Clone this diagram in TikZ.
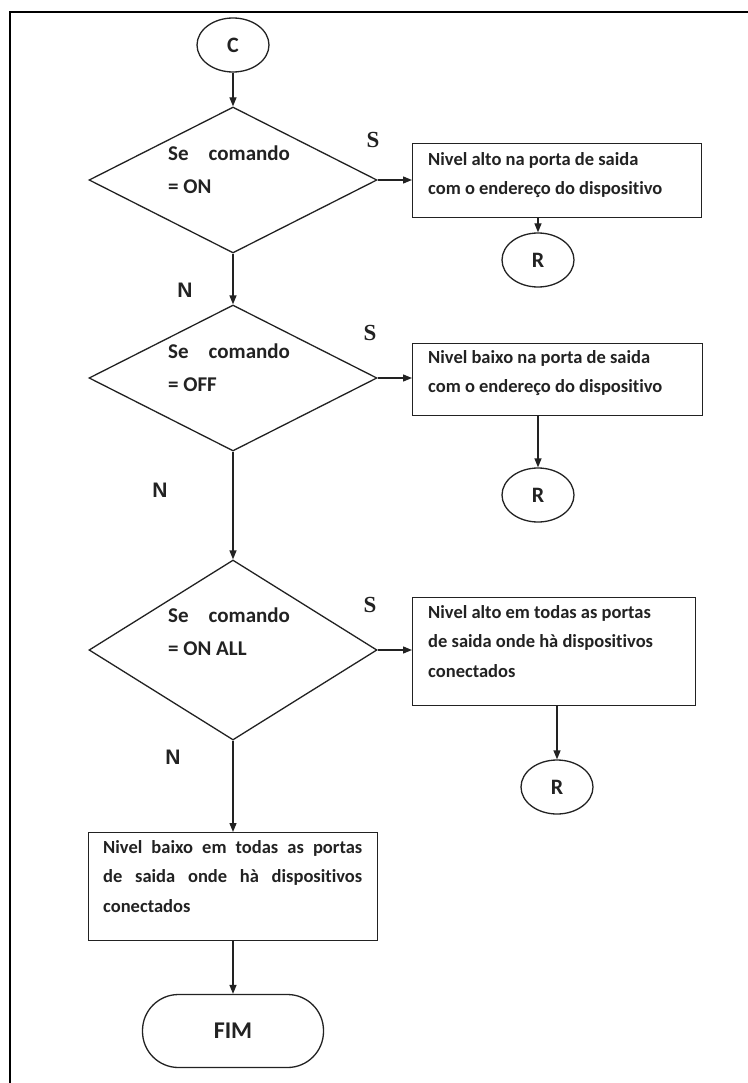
\documentclass[tikz,border=0pt]{standalone}
\usepackage{fontspec}
\setmainfont{Carlito}[RawFeature={-liga}]
\newfontfamily\labsans{Liberation Sans}
\newfontfamily\labserif{Liberation Serif}
\usetikzlibrary{shapes.geometric,arrows.meta}
\definecolor{ink}{HTML}{222222}
\begin{document}
\begin{tikzpicture}[x=1pt,y=-1pt,
  line/.style={draw=ink, line width=1.3pt},
  arr/.style={draw=ink, line width=1.3pt, -{Triangle[length=9pt,width=7pt]}},
  term/.style={ellipse, line, minimum width=72pt, minimum height=54pt, inner sep=0pt, text=ink, font=\fontsize{22}{22}\selectfont\bfseries},
  dec/.style={diamond, line, shape aspect=2, minimum width=288pt, minimum height=146pt, inner sep=0pt},
  procbox/.style={rectangle, line, inner sep=0pt, anchor=north west},
  btext/.style={anchor=north west, align=left, inner sep=0pt, text=ink, font=\fontsize{18.5}{29.5}\selectfont\bfseries},
  dtext/.style={anchor=north west, align=left, inner sep=0pt, text=ink, font=\fontsize{21}{33}\selectfont\bfseries},
  slab/.style={inner sep=0pt, text=ink, font=\fontsize{23}{23}\selectfont\labserif\bfseries},
  nlab/.style={inner sep=0pt, text=ink, font=\fontsize{21}{21}\selectfont\labsans\bfseries}
]
\useasboundingbox (0,0) rectangle (747,1083);
\fill[white] (0,0) rectangle (747,1083);
% outer frame
\coordinate (fa) at (10,1090);
\coordinate (fb) at (10,12);
\coordinate (fc) at (760,12);
\draw[black, line width=2.2pt] (fa) -- (fb) -- (fc);

% terminals
\node[term] (c) at (233,45) {C};
\node[term] (r1) at (538,260) {R};
\node[term] (r2) at (538,495) {R};
\node[term] (r3) at (557,787) {R};
\node[line, rounded corners=36pt, minimum width=181pt, minimum height=73pt, inner sep=0pt, text=ink, font=\fontsize{24}{24}\selectfont\bfseries] (fim) at (233,1031) {FIM};

% decisions
\node[dec] (d1) at (233,180) {};
\node[dec] (d2) at (233,378) {};
\node[dec, minimum height=180pt] (d3) at (233,650) {};
\node[dtext] (t1) at (168,146) {Se\hspace{20pt}comando\\= ON};
\node[dtext] (t2) at (168,344) {Se\hspace{20pt}comando\\= OFF};
\node[dtext] (t3) at (168,608) {Se\hspace{20pt}comando\\= ON ALL};

% process boxes
\node[procbox, minimum width=289pt, minimum height=74pt] (b1) at (412,143) {};
\node[procbox, minimum width=290pt, minimum height=72pt] (b2) at (412,343) {};
\node[procbox, minimum width=283pt, minimum height=108pt] (b3) at (412,597) {};
\node[procbox, minimum width=289pt, minimum height=108pt] (b4) at (88,832) {};
\node[btext] (bt1) at (428,152) {Nivel alto na porta de saida\\com o endereço do dispositivo};
\node[btext] (bt2) at (428,350) {Nivel baixo na porta de saida\\com o endereço do dispositivo};
\node[btext] (bt3) at (428,605) {Nivel alto em todas as portas\\de saida onde hà dispositivos\\conectados};
\node[anchor=north west, inner sep=0pt, text width=259pt, align=justify, text=ink, font=\fontsize{18.5}{29.5}\selectfont\bfseries] (bt4) at (103,840) {Nivel baixo em todas as portas\linebreak de saida onde hà dispositivos\linebreak conectados};

% labels
\node[slab] (s1) at (373,140) {S};
\node[slab] (s2) at (370,333) {S};
\node[slab] (s3) at (370,605) {S};
\node[nlab] (n1) at (185,290) {N};
\node[nlab] (n2) at (160,490) {N};
\node[nlab] (n3) at (173,757) {N};

% connectors
\draw[arr] (c) -- (d1.north);
\draw[arr] (d1.east) -- (b1.west |- d1.east);
\draw[arr] (r1.north |- b1.south) -- (r1.north);
\draw[arr] (d1.south) -- (d2.north);
\draw[arr] (d2.east) -- (b2.west |- d2.east);
\draw[arr] (r2.north |- b2.south) -- (r2.north);
\draw[arr] (d2.south) -- (d3.north);
\draw[arr] (d3.east) -- (b3.west |- d3.east);
\draw[arr] (r3.north |- b3.south) -- (r3.north);
\draw[arr] (d3.south) -- (b4.north -| d3.south);
\draw[arr] (b4.south -| fim.north) -- (fim.north);
\end{tikzpicture}
\end{document}
